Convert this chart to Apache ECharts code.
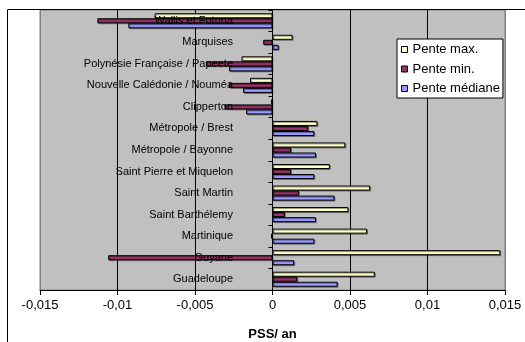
<!DOCTYPE html>
<html>
<head>
<meta charset="utf-8">
<script src="https://cdn.jsdelivr.net/npm/echarts@6/dist/echarts.min.js"></script>
<style>html,body{margin:0;padding:0;background:#fff;}#chart{width:525px;height:342px;}</style>
</head>
<body>
<div id="chart"></div>
<script>
const categories = ['Wallis et Futuna','Marquises','Polynésie Française / Papeete','Nouvelle Calédonie / Nouméa','Clipperton','Métropole / Brest','Métropole / Bayonne','Saint Pierre et Miquelon','Saint Martin','Saint Barthélemy','Martinique','Guyane','Guadeloupe'];
const penteMax = [-0.0076, 0.0013, -0.0020, -0.00145, -0.0001, 0.0029, 0.0047, 0.0037, 0.0063, 0.0049, 0.0061, 0.0147, 0.0066];
const penteMin = [-0.0113, -0.0006, -0.0043, -0.0028, -0.0031, 0.0023, 0.0012, 0.0012, 0.0017, 0.0008, -0.0001, -0.0106, 0.0016];
const penteMed = [-0.0093, 0.0004, -0.0028, -0.0019, -0.0017, 0.0027, 0.0028, 0.0027, 0.0040, 0.0028, 0.0027, 0.0014, 0.0042];
const xTicks = {min: -0.015, max: 0.015, interval: 0.005};
const seriesNames = ['Pente max.', 'Pente min.', 'Pente médiane'];
const colors = ['#FFFFCC', '#993366', '#9999FF'];

const FONT = '"Liberation Sans", Arial, sans-serif';
const chart = echarts.init(document.getElementById('chart'), null, {renderer: 'canvas'});
const mk = (name, data, color) => ({
  name, type: 'bar', data,
  barGap: '0%', barCategoryGap: '30%',
  itemStyle: {color, borderColor: '#000', borderWidth: 1,
    shadowColor: 'rgba(0,0,0,0.35)', shadowOffsetX: 1, shadowOffsetY: 1},
  emphasis: {disabled: true}
});
chart.setOption({
  animation: false,
  backgroundColor: '#fff',
  textStyle: {fontFamily: FONT},
  grid: {left: 40, right: 20, top: 10, bottom: 52, show: true, containLabel: false, outerBoundsMode: 'none',
    backgroundColor: '#C0C0C0', borderColor: '#808080', borderWidth: 1},
  legend: {
    orient: 'vertical', left: 397, top: 39,
    data: seriesNames,
    backgroundColor: '#fff', borderColor: '#000', borderWidth: 1,
    padding: [3, 3, 2, 4], itemGap: 4.5, itemWidth: 6, itemHeight: 6,
    icon: 'rect',
    itemStyle: {borderColor: '#000', borderWidth: 1, shadowBlur: 0, shadowOffsetX: 0, shadowOffsetY: 0},
    textStyle: {fontFamily: FONT, fontSize: 13, color: '#000', lineHeight: 15}
  },
  xAxis: {
    type: 'value', min: xTicks.min, max: xTicks.max, interval: xTicks.interval,
    name: 'PSS/ an', nameLocation: 'middle', nameGap: 38,
    nameTextStyle: {fontFamily: FONT, fontSize: 13, fontWeight: 'bold', color: '#000'},
    axisLine: {show: true, onZero: false, lineStyle: {color: '#000', width: 1}},
    axisTick: {show: true, inside: false, length: 5, lineStyle: {color: '#000'}},
    axisLabel: {fontFamily: FONT, fontSize: 13, color: '#000', margin: 9,
      formatter: v => (Math.abs(v) < 1e-12 ? '0' : String(+v.toFixed(3)).replace('.', ','))},
    splitLine: {show: true, lineStyle: {color: ['#808080', '#000', '#000', '#000', '#000', '#000', '#808080'], width: 1}}
  },
  yAxis: {
    type: 'category', data: categories, inverse: true, z: 10,
    axisLine: {show: true, onZero: true, lineStyle: {color: '#000', width: 1}},
    axisTick: {show: true, inside: false, length: 4, lineStyle: {color: '#000'}},
    axisLabel: {fontFamily: FONT, fontSize: 11, color: '#000', margin: -193, align: 'right'}
  },
  series: [mk(seriesNames[0], penteMax, colors[0]), mk(seriesNames[1], penteMin, colors[1]), mk(seriesNames[2], penteMed, colors[2])],
  graphic: [
    {type: 'line', shape: {x1: 7.5, y1: 9.5, x2: 525, y2: 9.5}, style: {stroke: '#000', lineWidth: 1}, silent: true, z: 100},
    {type: 'line', shape: {x1: 7.5, y1: 9.5, x2: 7.5, y2: 342}, style: {stroke: '#000', lineWidth: 1}, silent: true, z: 100}
  ]
});
</script>
</body>
</html>
